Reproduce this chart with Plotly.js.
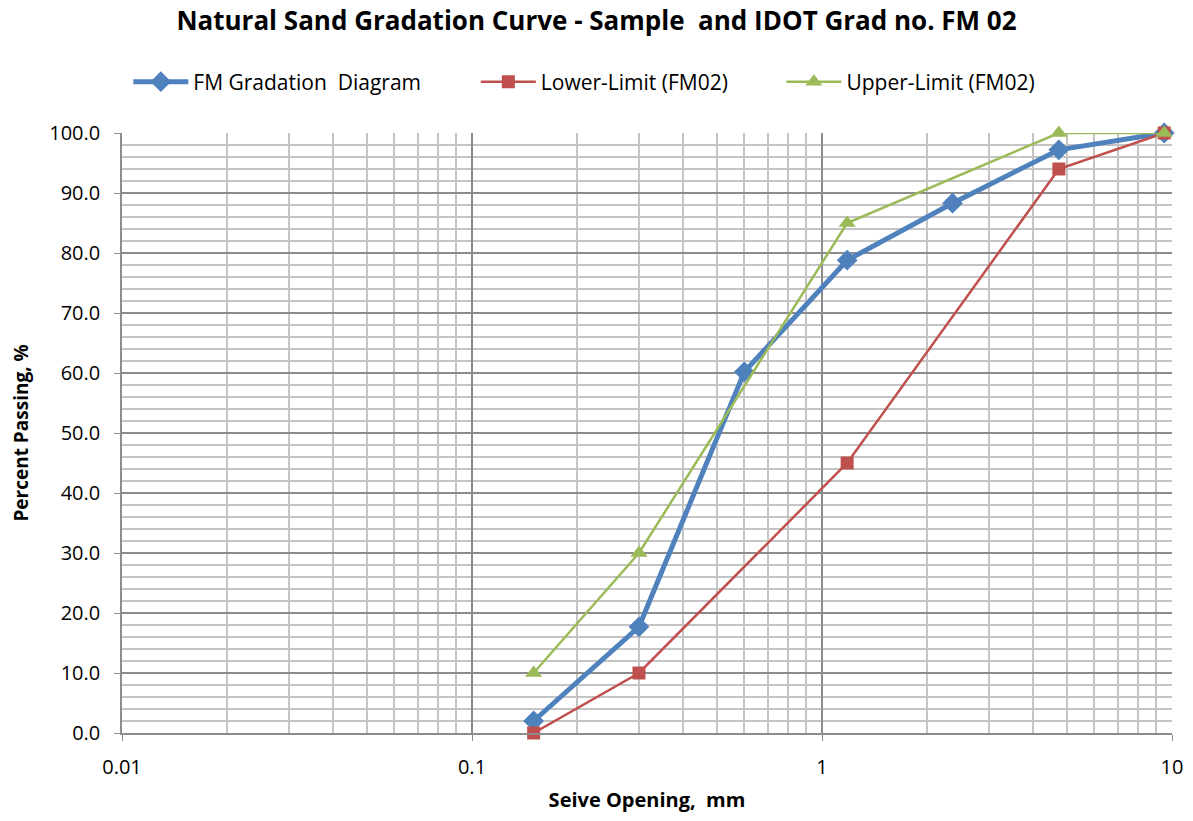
<!DOCTYPE html>
<html><head><meta charset="utf-8">
<script src="https://cdn.plot.ly/plotly-3.0.1.min.js"></script>
<style>body{margin:0;background:#fff}#c{width:1193px;height:821px}</style>
</head><body><div id="c"></div>
<script>
var fmSieve = [0.15, 0.3, 0.6, 1.18, 2.36, 4.75, 9.5];
var fmPass = [2.0, 17.7, 60.2, 78.8, 88.3, 97.2, 100.0];
var lowSieve = [0.15, 0.3, 1.18, 4.75, 9.5];
var lowPass = [0, 10, 45, 94, 100];
var upSieve = [0.15, 0.3, 1.18, 4.75, 9.5];
var upPass = [10, 30, 85, 100, 100];
var xTicks = [0.01, 0.1, 1, 10];
var xTickText = ['0.01', '0.1', '1', '10'];

var F = '"Open Sans", Lato, sans-serif';
var traces = [
 {x: fmSieve, y: fmPass, name: 'FM Gradation  Diagram', mode: 'lines+markers', cliponaxis: false, legend: 'legend',
  line: {color: '#4F81BD', width: 5}, marker: {symbol: 'diamond', size: 16, color: '#4F81BD'}},
 {x: lowSieve, y: lowPass, name: 'Lower-Limit (FM02)', mode: 'lines+markers', cliponaxis: false, legend: 'legend2',
  line: {color: '#C0504D', width: 2.5}, marker: {symbol: 'square', size: 13, color: '#C0504D'}},
 {x: upSieve, y: upPass, name: 'Upper-Limit (FM02)', mode: 'lines+markers', cliponaxis: false, legend: 'legend3',
  line: {color: '#9BBB59', width: 2.5}, marker: {symbol: 'triangle-up', size: 15, color: '#9BBB59'}}
];
function leg(x) {
 return {orientation: 'h', x: x, xanchor: 'left', y: 1.085, yanchor: 'middle',
  font: {family: F, size: 21}, itemwidth: 55, bgcolor: 'rgba(0,0,0,0)'};
}
var layout = {
 width: 1193, height: 821,
 margin: {l: 122, r: 21, t: 133, b: 88},
 paper_bgcolor: '#fff', plot_bgcolor: '#fff',
 font: {family: F, size: 20, color: '#000'},
 title: {text: '<b>Natural Sand Gradation Curve - Sample  and IDOT Grad no. FM 02</b>',
  font: {family: F, size: 26, color: '#000'}, x: 0.5, xanchor: 'center', y: 0.975, yanchor: 'middle'},
 showlegend: true,
 legend: leg(0.006),
 legend2: leg(0.337),
 legend3: leg(0.628),
 xaxis: {type: 'log', range: [-2, 1], tickvals: xTicks, ticktext: xTickText,
  showgrid: true, gridcolor: '#8C8C8C', gridwidth: 1.5,
  minor: {dtick: 'D1', showgrid: true, gridcolor: '#C4C4C4', gridwidth: 1.5, ticks: ''},
  showline: true, linecolor: '#8C8C8C', linewidth: 1.5, mirror: false,
  ticks: 'outside', ticklen: 6, tickcolor: '#8C8C8C', ticklabelstandoff: 9,
  tickfont: {family: F, size: 20}, zeroline: false,
  title: {text: '<b>Seive Opening,  mm</b>', font: {family: F, size: 20}, standoff: 14}},
 yaxis: {range: [0, 100], dtick: 10, tickformat: '.1f',
  showgrid: true, gridcolor: '#8C8C8C', gridwidth: 1.5,
  minor: {dtick: 2, showgrid: true, gridcolor: '#C4C4C4', gridwidth: 1.5, ticks: ''},
  showline: true, linecolor: '#8C8C8C', linewidth: 1.5,
  ticks: 'outside', ticklen: 6, tickcolor: '#8C8C8C', ticklabelstandoff: 10,
  tickfont: {family: F, size: 20}, zeroline: false,
  title: {text: '<b>Percent Passing, %</b>', font: {family: F, size: 19}, standoff: 16}}
};
Plotly.newPlot('c', traces, layout, {displayModeBar: false});
</script></body></html>
